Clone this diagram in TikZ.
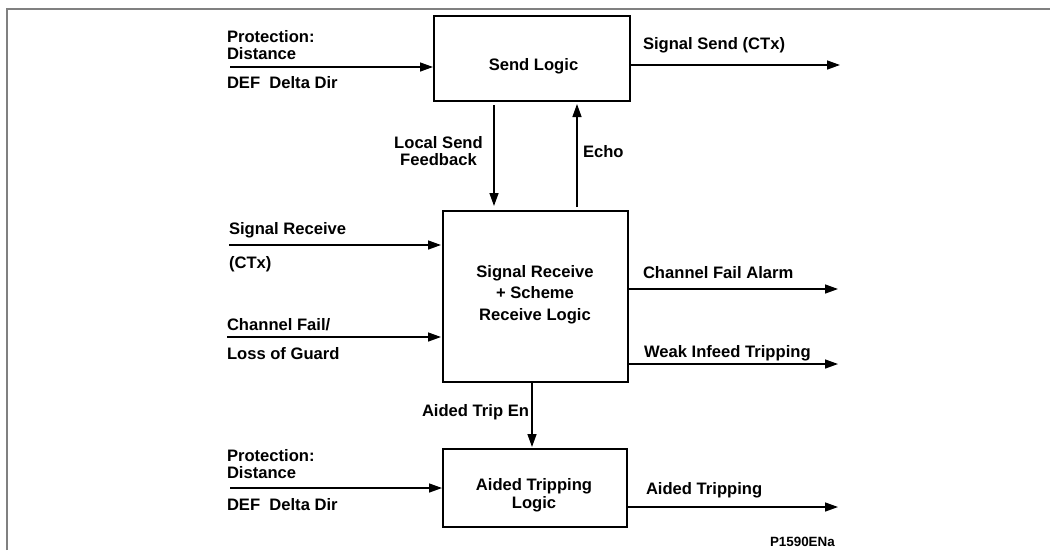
\documentclass[tikz,border=0pt]{standalone}
\usepackage{fontspec}
\setmainfont{Liberation Sans}
\usetikzlibrary{arrows.meta}
\begin{document}
\begin{tikzpicture}[x=1pt,y=-1pt,
  frameline/.style={draw=black!50, line width=2.2pt},
  box/.style={draw, line width=1.6pt, inner sep=0pt, outer sep=0pt},
  arr/.style={line width=1.4pt, -{Triangle[length=13pt,width=9pt]}},
  txt/.style={font=\bfseries\fontsize{16.6}{17}\selectfont, inner sep=0pt, outer sep=0pt},
  smalltxt/.style={font=\bfseries\fontsize{13.4}{14}\selectfont, inner sep=0pt, outer sep=0pt}]
\useasboundingbox (0,0) rectangle (1050,550);
% outer frame
\draw[frameline] (7,550) -- (7,9) -- (1050,9);

% boxes
\node[box, minimum width=196pt, minimum height=85pt] (send) at (532,58.5) {};
\node[box, minimum width=185pt, minimum height=171pt] (recv) at (535.5,296.5) {};
\node[box, minimum width=184pt, minimum height=78pt] (aided) at (535,488) {};

% box texts
\node[txt, anchor=base] (tsend) at (533.5,70) {Send Logic};
\node[txt, anchor=base] (trecv1) at (535,277) {Signal Receive};
\node[txt, anchor=base] (trecv2) at (535,298.5) {+ Scheme};
\node[txt, anchor=base] (trecv3) at (535,320) {Receive Logic};
\node[txt, anchor=base] (taided1) at (534,490) {Aided Tripping};
\node[txt, anchor=base] (taided2) at (534,508.5) {Logic};

% free ends
\coordinate (in1) at (230,67);
\coordinate (in2) at (229,245);
\coordinate (in3) at (227,337);
\coordinate (in4) at (230,488);
\coordinate (out1) at (840,65);
\coordinate (out2) at (838,289);
\coordinate (out3) at (838,364);
\coordinate (out4) at (838,507);
\coordinate (xls) at (494,0);
\coordinate (xecho) at (577,0);
\coordinate (xen) at (532,0);

% connectors
\draw[arr, shorten >=1pt] (in1) -- (in1 -| send.west);
\draw[arr] (send.east |- out1) -- (out1);
\draw[arr, shorten <=4pt, shorten >=5pt] (send.south -| xls) -- (recv.north -| xls);
\draw[arr, shorten <=4pt, shorten >=3pt] (recv.north -| xecho) -- (send.south -| xecho);
\draw[arr, shorten >=2pt] (in2) -- (in2 -| recv.west);
\draw[arr, shorten >=2pt] (in3) -- (in3 -| recv.west);
\draw[arr] (recv.east |- out2) -- (out2);
\draw[arr] (recv.east |- out3) -- (out3);
\draw[arr, shorten >=2pt] (recv.south -| xen) -- (aided.north -| xen);
\draw[arr, shorten >=1pt] (in4) -- (in4 -| aided.west);
\draw[arr] (aided.east |- out4) -- (out4);

% left labels
\node[txt, anchor=base west, align=left] (lp1) at (227,59) {Protection:\\Distance};
\node[txt, anchor=base west] (ld1) at (227,88) {DEF\ \ Delta Dir};
\node[txt, anchor=base west] (lsr) at (229,234.5) {Signal Receive};
\node[txt, anchor=base west] (lctx) at (229,268) {(CTx)};
\node[txt, anchor=base west] (lcf) at (227,330) {Channel Fail/};
\node[txt, anchor=base west] (llg) at (227,359) {Loss of Guard};
\node[txt, anchor=base west, align=left] (lp2) at (227,478) {Protection:\\Distance};
\node[txt, anchor=base west] (ld2) at (227,510.5) {DEF\ \ Delta Dir};

% connector labels
\node[txt, anchor=base] (lls1) at (438.5,148) {Local Send};
\node[txt, anchor=base] (lls2) at (438.5,165.5) {Feedback};
\node[txt, anchor=base west] (lecho) at (583,157) {Echo};
\node[txt, anchor=base west] (len) at (422,416) {Aided Trip En};

% right labels
\node[txt, anchor=base west] (rss) at (643,49) {Signal Send (CTx)};
\node[txt, anchor=base west] (rcfa) at (643,278) {Channel Fail Alarm};
\node[txt, anchor=base west] (rwit) at (644,357) {Weak Infeed Tripping};
\node[txt, anchor=base west] (rat) at (646,494) {Aided Tripping};
\node[smalltxt, anchor=base west] (ref) at (770,546.5) {P1590ENa};
\end{tikzpicture}
\end{document}
